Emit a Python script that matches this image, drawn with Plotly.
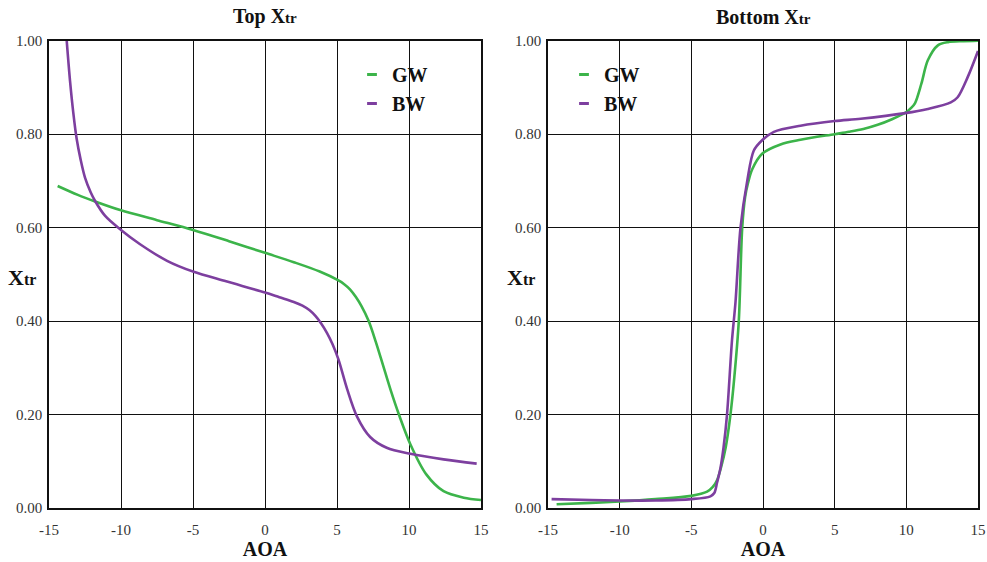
import plotly.graph_objects as go

# Transition location Xtr versus angle of attack, upper and lower surface
top_gw_aoa = [-14.4, -13, -11.8, -10, -7.5, -5, -2.5, 0, 2, 3.8, 5.1, 5.5, 5.9, 6.3, 6.7,
              7.2, 7.7, 8.2, 8.75, 9.3, 10.1, 11.2, 12.4, 13.8, 15]
top_gw_xtr = [0.689, 0.670, 0.656, 0.637, 0.616, 0.595, 0.571, 0.546, 0.526, 0.506, 0.487,
              0.479, 0.468, 0.452, 0.432, 0.40, 0.355, 0.305, 0.25, 0.20, 0.136, 0.072,
              0.036, 0.022, 0.017]

top_bw_aoa = [-13.77, -13.54, -13.31, -13.08, -12.8, -12.5, -12.1, -11.8, -11.1, -10, -8.7,
              -6.8, -5, -2.7, 0, 1, 2, 2.6, 3.1, 3.5, 3.9, 4.3, 4.7, 5.1, 5.7, 6.4, 7.3,
              8.45, 10.1, 12.4, 14.7]
top_bw_xtr = [1.0, 0.914, 0.845, 0.79, 0.745, 0.707, 0.675, 0.657, 0.625, 0.595, 0.565,
              0.529, 0.506, 0.485, 0.461, 0.451, 0.441, 0.433, 0.423, 0.411, 0.395, 0.375,
              0.35, 0.318, 0.255, 0.195, 0.152, 0.129, 0.116, 0.104, 0.095]

bot_gw_aoa = [-14.4, -12, -10, -7.5, -5, -3.9, -3.5, -3.2, -2.9, -2.6, -2.27, -2.0, -1.69,
              -1.45, -1.25, -1.05, -0.75, -0.06, 1.22, 2.62, 5, 6, 7, 8, 9, 10, 10.3, 10.6,
              11.05, 11.5, 12.2, 12.9, 14, 15]
bot_gw_xtr = [0.008, 0.011, 0.014, 0.019, 0.026, 0.035, 0.045, 0.06, 0.09, 0.13, 0.2, 0.28,
              0.4, 0.6, 0.665, 0.695, 0.725, 0.758, 0.778, 0.788, 0.80, 0.805, 0.811, 0.82,
              0.832, 0.847, 0.855, 0.866, 0.908, 0.958, 0.99, 0.997, 0.999, 1.0]

bot_bw_aoa = [-14.75, -12, -10, -7.5, -5, -3.67, -3.4, -3.2, -2.97, -2.75, -2.51, -2.16,
              -1.92, -1.57, -1.1, -0.64, -0.06, 0.76, 2.62, 5, 6.82, 9.92, 11.5, 13.1,
              13.58, 14.28, 15]
bot_bw_xtr = [0.019, 0.017, 0.016, 0.016, 0.019, 0.025, 0.032, 0.055, 0.085, 0.13, 0.2,
              0.36, 0.44, 0.6, 0.70, 0.765, 0.787, 0.805, 0.818, 0.828, 0.833, 0.845, 0.854,
              0.868, 0.879, 0.922, 0.978]

x_ticks = [-15, -10, -5, 0, 5, 10, 15]
x_tick_text = ["-15", "-10", "-5", "0", "5", "10", "15"]
y_ticks = [0, 0.2, 0.4, 0.6, 0.8, 1.0]
y_tick_text = ["0.00", "0.20", "0.40", "0.60", "0.80", "1.00"]

GREEN = "#3cb44a"
PURPLE = "#7d3f9f"
SERIF = "Liberation Serif"
W, H = 987, 562

fig = go.Figure()


def add_pair(xa, ya, legend, gw, bw):
    for name, color, (xs, ys) in (("GW", GREEN, gw), ("BW", PURPLE, bw)):
        fig.add_trace(go.Scatter(
            x=xs, y=ys, mode="lines", name=name, xaxis=xa, yaxis=ya,
            line=dict(color=color, width=2.6, shape="spline", smoothing=0.9),
            legendgroup=legend + name, showlegend=False, hoverinfo="x+y+name"))
        # short dash shown as the legend key
        fig.add_trace(go.Scatter(
            x=[None], y=[None], mode="markers", name=name, xaxis=xa, yaxis=ya,
            marker=dict(symbol="line-ew", size=7, line=dict(color=color, width=3)),
            legendgroup=legend + name, legend=legend))


add_pair("x", "y", "legend", (top_gw_aoa, top_gw_xtr), (top_bw_aoa, top_bw_xtr))
add_pair("x2", "y2", "legend2", (bot_gw_aoa, bot_gw_xtr), (bot_bw_aoa, bot_bw_xtr))

tick_font = dict(family=SERIF, size=15, color="#333")
title_font = dict(family=SERIF, size=20, color="#111", weight="bold")
ytitle_font = dict(family=SERIF, size=22, color="#111", weight="bold")

y_dom = [1 - 508 / H, 1 - 40.7 / H]
common_x = dict(range=[-15, 15], tickvals=x_ticks, ticktext=x_tick_text, showgrid=True,
                gridcolor="#111", gridwidth=1.3, showline=True, linecolor="#111",
                linewidth=1.5, mirror=True, zeroline=False, ticks="", tickfont=tick_font,
                ticklabelstandoff=7, automargin=False,
                title=dict(text="AOA", font=title_font, standoff=4))
common_y = dict(range=[0, 1], tickvals=y_ticks, ticktext=y_tick_text, showgrid=True,
                gridcolor="#111", gridwidth=1.3, showline=True, linecolor="#111",
                linewidth=1.5, mirror=True, zeroline=False, ticks="", tickfont=tick_font,
                ticklabelstandoff=2, automargin=False, domain=y_dom)

legend_style = dict(font=dict(family=SERIF, size=20, color="#111", weight="bold"),
                    bgcolor="rgba(0,0,0,0)", itemwidth=30, tracegroupgap=0,
                    xanchor="left", yanchor="top")

sub = "<span style='font-size:15px'>tr</span>"
sub_y = "<span style='font-size:16px'>tr</span>"

fig.update_layout(
    width=W, height=H, margin=dict(l=0, r=0, t=0, b=0),
    paper_bgcolor="white", plot_bgcolor="white",
    xaxis=dict(common_x, domain=[49 / W, 481 / W], anchor="y"),
    yaxis=dict(common_y, anchor="x"),
    xaxis2=dict(common_x, domain=[548 / W, 978 / W], anchor="y2"),
    yaxis2=dict(common_y, anchor="x2"),
    legend=dict(legend_style, x=352 / W, y=1 - 55 / H),
    legend2=dict(legend_style, x=564 / W, y=1 - 55 / H),
    annotations=[
        dict(text="Top X" + sub, x=265 / W, y=1 - 17 / H, xref="paper", yref="paper",
             showarrow=False, font=title_font, xanchor="center", yanchor="middle"),
        dict(text="Bottom X" + sub, x=763 / W, y=1 - 17 / H, xref="paper", yref="paper",
             showarrow=False, font=title_font, xanchor="center", yanchor="middle"),
        dict(text="X" + sub_y, x=6 / W, y=1 - 277 / H, xref="paper", yref="paper",
             showarrow=False, font=ytitle_font, xanchor="left", yanchor="middle"),
        dict(text="X" + sub_y, x=505 / W, y=1 - 277 / H, xref="paper", yref="paper",
             showarrow=False, font=ytitle_font, xanchor="left", yanchor="middle"),
    ],
)

fig.write_html("out.html")
